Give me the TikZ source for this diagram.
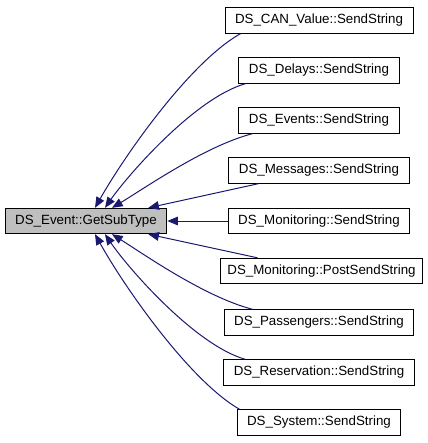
\documentclass[tikz,border=0pt]{standalone}
\usepackage{fontspec}
\setmainfont{Liberation Sans}
\usetikzlibrary{arrows.meta}
\definecolor{callblue}{HTML}{191970}
\definecolor{boxgray}{HTML}{BFBFBF}
\tikzset{
  func/.style={draw=black, line width=0.75pt, fill=white, inner xsep=7.5pt, inner ysep=0pt,
    minimum height=19pt, font=\fontsize{10pt}{12pt}\selectfont},
  calls/.style={draw=callblue, line width=0.75pt, -{Triangle[length=8pt,width=6.5pt]}}
}
\begin{document}
\begin{tikzpicture}[x=0.75pt,y=-0.75pt]
\useasboundingbox (0,0) rectangle (428,443);
\node[func, fill=boxgray] (getsubtype) at (86,221) {DS\_Event::GetSubType};
\node[func] (canvalue) at (319,20.5) {DS\_CAN\_Value::SendString};
\node[func] (delays) at (319,70.5) {DS\_Delays::SendString};
\node[func] (events) at (319,120.5) {DS\_Events::SendString};
\node[func] (messages) at (319,170.5) {DS\_Messages::SendString};
\node[func] (monsend) at (319,221) {DS\_Monitoring::SendString};
\node[func, inner xsep=5.5pt] (monpost) at (321.5,271) {DS\_Monitoring::PostSendString};
\node[func] (passengers) at (319,322.5) {DS\_Passengers::SendString};
\node[func] (reservation) at (319,372.5) {DS\_Reservation::SendString};
\node[func] (system) at (319,422.5) {DS\_System::SendString};
\draw[calls] ([shift={(16,0)}]canvalue.south west) .. controls (190,62) and (125,155) .. ([shift={(9,0)}]getsubtype.north);
\draw[calls] ([shift={(7,0)}]delays.south west) .. controls (195,98) and (128,175) .. ([shift={(19,0)}]getsubtype.north);
\draw[calls] ([shift={(14,0)}]events.south west) .. controls (205,146) and (145,188) .. ([shift={(26,0)}]getsubtype.north);
\draw[calls] ([shift={(30,0)}]messages.south west) -- ([shift={(-19,0)}]getsubtype.north east);
\draw[calls] (monsend.west) -- (getsubtype.east);
\draw[calls] ([shift={(38,0)}]monpost.north west) -- ([shift={(-19,0)}]getsubtype.south east);
\draw[calls] ([shift={(29,0)}]passengers.north west) .. controls (205,297) and (145,255) .. ([shift={(26,0)}]getsubtype.south);
\draw[calls] ([shift={(22,0)}]reservation.north west) .. controls (195,345) and (128,268) .. ([shift={(19,0)}]getsubtype.south);
\draw[calls] ([shift={(3,0)}]system.north west) .. controls (190,381) and (125,288) .. ([shift={(9,0)}]getsubtype.south);
\end{tikzpicture}
\end{document}
